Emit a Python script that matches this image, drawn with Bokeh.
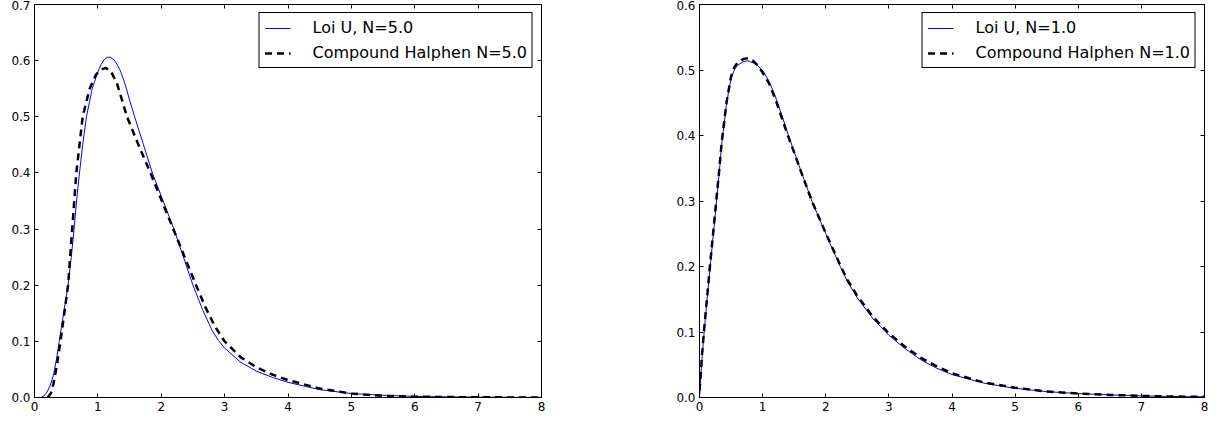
from bokeh.plotting import figure
from bokeh.layouts import row
from bokeh.models import Range1d, FixedTicker, LinearAxis, NumeralTickFormatter, Legend, LegendItem
from bokeh.embed import file_html
from bokeh.resources import INLINE

# ---------------- data ----------------
x_ticks = [0, 1, 2, 3, 4, 5, 6, 7, 8]
left_y_ticks = [0.0, 0.1, 0.2, 0.3, 0.4, 0.5, 0.6, 0.7]
right_y_ticks = [0.0, 0.1, 0.2, 0.3, 0.4, 0.5, 0.6]

left_label_u = "Loi U, N=5.0"
left_label_ch = "Compound Halphen N=5.0"
right_label_u = "Loi U, N=1.0"
right_label_ch = "Compound Halphen N=1.0"

left_x_u = [0.0, 0.1, 0.15, 0.2, 0.25, 0.3, 0.35, 0.39, 0.45, 0.53, 0.58, 0.62, 0.66, 0.70,
            0.76, 0.82, 0.91, 1.0, 1.05, 1.1, 1.15, 1.2, 1.25, 1.3, 1.35, 1.4, 1.45, 1.5,
            1.58, 1.72, 1.86, 2.03, 2.2, 2.35, 2.5, 2.65, 2.8, 2.9, 3.0, 3.25, 3.5, 3.75,
            4.0, 4.5, 5.0, 5.5, 6.0, 6.5, 7.0, 7.5, 8.0]
left_y_u = [0.0, 0.0, 0.003, 0.01, 0.022, 0.04, 0.07, 0.1, 0.143, 0.2, 0.25, 0.295, 0.345,
            0.39, 0.45, 0.5, 0.55, 0.58, 0.593, 0.602, 0.606, 0.606, 0.602, 0.594, 0.583,
            0.568, 0.55, 0.53, 0.5, 0.45, 0.4, 0.35, 0.3, 0.25, 0.2, 0.157, 0.12, 0.102,
            0.088, 0.063, 0.047, 0.036, 0.027, 0.014, 0.007, 0.004, 0.002, 0.0012, 0.0007,
            0.0004, 0.0002]

left_x_ch = [0.21, 0.26, 0.3, 0.35, 0.41, 0.47, 0.53, 0.595, 0.66, 0.71, 0.76, 0.87, 0.97,
             1.05, 1.12, 1.2, 1.3, 1.38, 1.46, 1.64, 1.83, 2.01, 2.19, 2.37, 2.55, 2.7,
             2.85, 3.0, 3.25, 3.5, 3.75, 4.0, 4.5, 5.0, 5.5, 6.0, 6.5, 7.0, 7.5, 8.0]
left_y_ch = [0.0, 0.008, 0.025, 0.055, 0.1, 0.15, 0.2, 0.3, 0.4, 0.45, 0.5, 0.55, 0.575,
             0.584, 0.587, 0.582, 0.56, 0.53, 0.5, 0.45, 0.4, 0.35, 0.3, 0.25, 0.2, 0.16,
             0.126, 0.1, 0.072, 0.054, 0.041, 0.031, 0.016, 0.007, 0.003, 0.0015, 0.0008,
             0.0004, 0.0002, 0.0001]

right_x_u = [0.0, 0.02, 0.04, 0.074, 0.12, 0.17, 0.22, 0.27, 0.31, 0.35, 0.43, 0.5, 0.55,
             0.6, 0.7, 0.765, 0.85, 0.93, 1.01, 1.1, 1.2, 1.3, 1.41, 1.5, 1.6, 1.78, 2.0,
             2.23, 2.34, 2.5, 2.75, 3.0, 3.25, 3.5, 3.75, 4.0, 4.5, 5.0, 5.5, 6.0, 6.5,
             7.0, 7.5, 8.0]
right_y_u = [0.0, 0.03, 0.06, 0.1, 0.15, 0.2, 0.25, 0.3, 0.34, 0.385, 0.45, 0.487, 0.5,
             0.507, 0.513, 0.514, 0.511, 0.506, 0.498, 0.483, 0.46, 0.432, 0.4, 0.375,
             0.348, 0.3, 0.25, 0.2, 0.178, 0.152, 0.12, 0.095, 0.075, 0.058, 0.045, 0.035,
             0.022, 0.014, 0.009, 0.006, 0.004, 0.0025, 0.0015, 0.001]

right_x_ch = [0.0, 0.02, 0.04, 0.07, 0.12, 0.165, 0.215, 0.265, 0.31, 0.35, 0.43, 0.5,
              0.55, 0.6, 0.7, 0.775, 0.85, 0.93, 1.0, 1.1, 1.2, 1.3, 1.4, 1.5, 1.6, 1.78,
              2.0, 2.23, 2.34, 2.5, 2.75, 3.0, 3.25, 3.5, 3.75, 4.0, 4.5, 5.0, 5.5, 6.0,
              6.5, 7.0, 7.5, 8.0]
right_y_ch = [0.01, 0.035, 0.065, 0.1, 0.153, 0.2, 0.25, 0.3, 0.345, 0.388, 0.452, 0.49,
              0.504, 0.511, 0.517, 0.518, 0.514, 0.506, 0.496, 0.48, 0.456, 0.428, 0.4,
              0.374, 0.347, 0.3, 0.251, 0.202, 0.18, 0.155, 0.123, 0.098, 0.078, 0.061,
              0.048, 0.037, 0.023, 0.015, 0.009, 0.006, 0.004, 0.0025, 0.0015, 0.001]

FONT = "DejaVu Sans"


def style_axis(ax, ticks, labels=True, fmt=None):
    ax.ticker = FixedTicker(ticks=ticks)
    ax.major_tick_in = 4
    ax.major_tick_out = 0
    ax.minor_tick_line_color = None
    ax.axis_line_color = "black"
    ax.major_tick_line_color = "black"
    ax.major_label_text_font = FONT
    if labels:
        ax.major_label_text_color = "black"
        ax.major_label_text_font_size = "12px"
        ax.major_label_standoff = 4
    else:
        ax.major_label_text_color = None
        ax.major_label_text_font_size = "0px"
        ax.major_label_standoff = 0
    if fmt is not None:
        ax.formatter = fmt


def make_panel(width, b_left, b_right, y_max, y_ticks, xu, yu, xc, yc, lab_u, lab_c, legend_loc):
    p = figure(width=width, height=421, output_backend="svg", toolbar_location=None,
               x_range=Range1d(0, 8), y_range=Range1d(0, y_max),
               min_border_left=b_left, min_border_right=b_right,
               min_border_top=4, min_border_bottom=24)
    p.xgrid.visible = False
    p.ygrid.visible = False
    p.outline_line_color = "black"
    p.outline_line_alpha = 1
    p.outline_line_width = 1
    p.background_fill_color = "white"
    p.border_fill_color = "white"

    style_axis(p.xaxis[0], x_ticks)
    style_axis(p.yaxis[0], y_ticks, fmt=NumeralTickFormatter(format="0.0"))
    top = LinearAxis()
    right = LinearAxis()
    style_axis(top, x_ticks, labels=False)
    style_axis(right, y_ticks, labels=False)
    p.add_layout(top, "above")
    p.add_layout(right, "right")

    r1 = p.line(xu, yu, line_color="#0000ff", line_width=1)
    r2 = p.line(xc, yc, line_color="black", line_width=2.5, line_dash="7 5")

    leg = Legend(items=[LegendItem(label=lab_u, renderers=[r1]),
                        LegendItem(label=lab_c, renderers=[r2])],
                 location=legend_loc)
    leg.label_text_font = FONT
    leg.label_text_font_size = "16px"
    leg.label_text_color = "black"
    leg.border_line_color = "black"
    leg.border_line_width = 1
    leg.border_line_alpha = 1
    leg.background_fill_color = "white"
    leg.background_fill_alpha = 1
    leg.padding = 5
    leg.spacing = 6
    leg.margin = 8
    leg.glyph_width = 26
    leg.glyph_height = 18
    leg.label_height = 18
    leg.label_standoff = 22
    p.add_layout(leg)
    return p


p1 = make_panel(620, 34, 79, 0.7, left_y_ticks, left_x_u, left_y_u, left_x_ch, left_y_ch,
                left_label_u, left_label_ch, "top_right")
p2 = make_panel(600, 79, 16, 0.6, right_y_ticks, right_x_u, right_y_u, right_x_ch, right_y_ch,
                right_label_u, right_label_ch, "top_right")

layout = row(p1, p2)
open("out.html", "w").write(file_html(layout, INLINE))
